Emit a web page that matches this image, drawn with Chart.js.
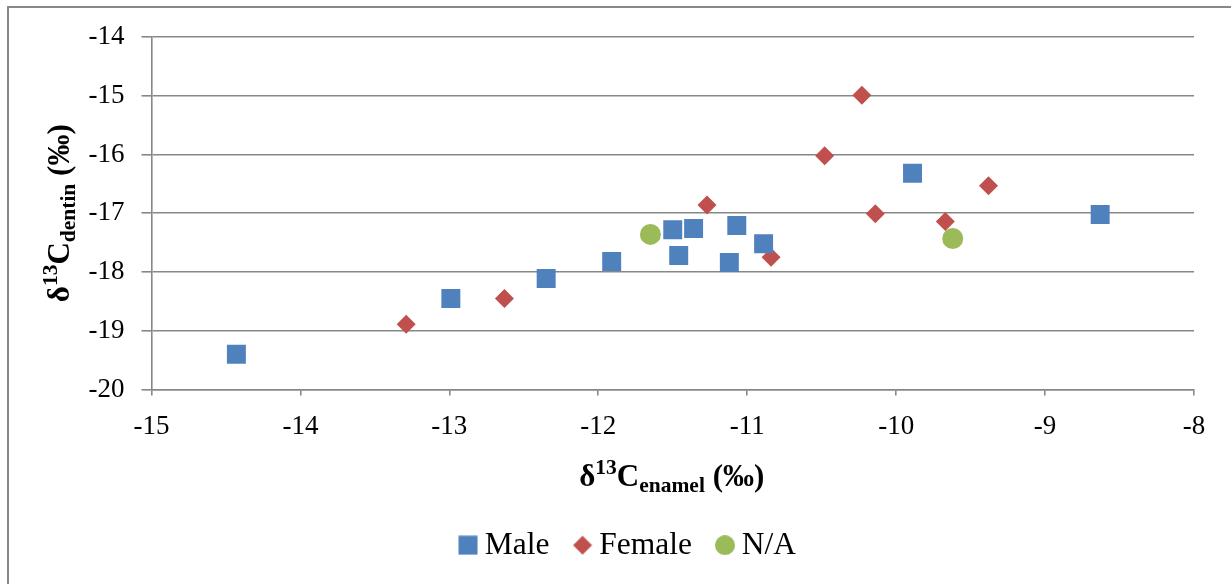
<!DOCTYPE html>
<html lang="en">
<head>
  <meta charset="UTF-8">
  <title>d13C enamel vs dentin</title>
  <script src="https://cdn.jsdelivr.net/npm/chart.js"></script>
  <style>
    body { margin: 0; background: #fff; }
    #wrap { width: 1231px; height: 584px; position: relative; }
  </style>
</head>
<body>
  <div id="wrap"><canvas id="scatter"></canvas></div>

  <script>
    // values (enamel = x, dentin = y)
    const maleEnamel   = [-14.43, -12.99, -12.35, -11.91, -11.50, -11.46, -11.36, -11.07, -11.12, -10.89, -9.89, -8.63];
    const maleDentin   = [-19.40, -18.45, -18.11, -17.82, -17.28, -17.72, -17.26, -17.21, -17.84, -17.52, -16.32, -17.02];
    const femaleEnamel = [-13.29, -12.63, -11.27, -10.84, -10.48, -10.23, -10.14, -9.67, -9.38];
    const femaleDentin = [-18.89, -18.45, -16.86, -17.75, -16.02, -14.99, -17.01, -17.14, -16.53];
    const naEnamel     = [-11.65, -9.62];
    const naDentin     = [-17.36, -17.43];
    const seriesNames  = ['Male', 'Female', 'N/A'];
    const xTicks = [-15, -14, -13, -12, -11, -10, -9, -8];
    const yTicks = [-20, -19, -18, -17, -16, -15, -14];

    const BLUE = '#4f81bd', RED = '#c0504d', GREEN = '#9bbb59', GRID = '#878787';
    const SERIF = '"Liberation Serif", "Times New Roman", serif';

    const pts = (xs, ys) => xs.map((x, i) => ({ x: x, y: ys[i] }));

    // small legend markers, same size for all three like the original
    function marker(kind, color) {
      const c = document.createElement('canvas');
      c.width = 20; c.height = 20;
      const g = c.getContext('2d');
      g.fillStyle = color;
      if (kind === 'square') g.fillRect(0.5, 0.5, 19, 19);
      else if (kind === 'diamond') {
        g.beginPath(); g.moveTo(10, 0.5); g.lineTo(19.5, 10); g.lineTo(10, 19.5); g.lineTo(0.5, 10); g.closePath(); g.fill();
      } else {
        g.beginPath(); g.arc(10, 10, 10, 0, Math.PI * 2); g.fill();
      }
      return c;
    }
    const legendMarks = [marker('square', BLUE), marker('diamond', RED), marker('circle', GREEN)];

    // draws "δ13C_sub (‰)" with super/subscripts
    function richTitle(ctx, sub, cx, baseY) {
      const big = 'bold 31px ' + SERIF, small = 'bold 21.5px ' + SERIF;
      const parts = [
        { t: '\u03b4', f: big, dy: 0 },
        { t: '13', f: small, dy: -12 },
        { t: 'C', f: big, dy: 0 },
        { t: sub, f: small, dy: 6 },
        { t: ' (\u2030)', f: big, dy: 0 }
      ];
      let total = 0;
      parts.forEach(p => { ctx.font = p.f; p.w = ctx.measureText(p.t).width; total += p.w; });
      let x = cx - total / 2;
      ctx.fillStyle = '#000';
      ctx.textBaseline = 'alphabetic';
      ctx.textAlign = 'left';
      parts.forEach(p => { ctx.font = p.f; ctx.fillText(p.t, x, baseY + p.dy); x += p.w; });
    }

    const decor = {
      id: 'decor',
      beforeDraw(chart) {
        const ctx = chart.ctx;
        ctx.save();
        ctx.strokeStyle = '#888';
        ctx.lineWidth = 2;
        ctx.strokeRect(8, 7, 1260, 620);
        ctx.restore();
      },
      afterDraw(chart) {
        const ctx = chart.ctx, a = chart.chartArea;
        ctx.save();
        richTitle(ctx, 'enamel', (a.left + a.right) / 2 - 1, 486);
        ctx.translate(68.5, (a.top + a.bottom) / 2);
        ctx.rotate(-Math.PI / 2);
        richTitle(ctx, 'dentin', 0, 0);
        ctx.restore();
      }
    };

    const ctx = document.getElementById('scatter').getContext('2d');
    new Chart(ctx, {
      type: 'scatter',
      data: {
        datasets: [
          { label: seriesNames[0], data: pts(maleEnamel, maleDentin), pointStyle: 'rect', pointRadius: 13.4,
            backgroundColor: BLUE, borderColor: BLUE, borderWidth: 0, pointHoverRadius: 13.4 },
          { label: seriesNames[1], data: pts(femaleEnamel, femaleDentin), pointStyle: 'rectRot', pointRadius: 9.5,
            backgroundColor: RED, borderColor: RED, borderWidth: 0, pointHoverRadius: 9.5 },
          { label: seriesNames[2], data: pts(naEnamel, naDentin), pointStyle: 'circle', pointRadius: 10.5,
            backgroundColor: GREEN, borderColor: GREEN, borderWidth: 0, pointHoverRadius: 10.5 }
        ]
      },
      options: {
        responsive: true,
        maintainAspectRatio: false,
        animation: false,
        layout: { padding: { left: 32, top: 37, right: 0, bottom: 13 } },
        scales: {
          x: {
            type: 'linear', min: xTicks[0], max: xTicks[xTicks.length - 1],
            afterBuildTicks: s => { s.ticks = xTicks.map(v => ({ value: v })); },
            afterFit: s => { s.height = 108; },
            ticks: { color: '#000', font: { family: SERIF, size: 27 }, padding: 15, maxRotation: 0 },
            grid: { drawOnChartArea: false, drawTicks: true, tickLength: 6, color: GRID, lineWidth: 1.6 },
            border: { color: GRID, width: 1.6 }
          },
          y: {
            type: 'linear', min: yTicks[0], max: yTicks[yTicks.length - 1],
            afterBuildTicks: s => { s.ticks = yTicks.map(v => ({ value: v })); },
            afterFit: s => { s.width = 119.5; },
            ticks: { color: '#000', font: { family: SERIF, size: 27 }, padding: 17 },
            grid: { color: GRID, lineWidth: 1.6, tickLength: 10 },
            border: { color: GRID, width: 1.6 }
          },
          yRight: {
            position: 'right', display: true,
            afterFit: s => { s.width = 37; },
            ticks: { display: false },
            grid: { display: false },
            border: { display: false }
          }
        },
        plugins: {
          tooltip: { enabled: false },
          legend: {
            position: 'bottom',
            labels: {
              color: '#000',
              font: { family: SERIF, size: 31.5 },
              usePointStyle: true,
              boxWidth: 2,
              boxHeight: 20,
              padding: 32,
              generateLabels: chart => Chart.defaults.plugins.legend.labels.generateLabels(chart)
                .map((item, i) => Object.assign(item, { pointStyle: legendMarks[i] }))
            }
          }
        }
      },
      plugins: [decor]
    });
  </script>
</body>
</html>
